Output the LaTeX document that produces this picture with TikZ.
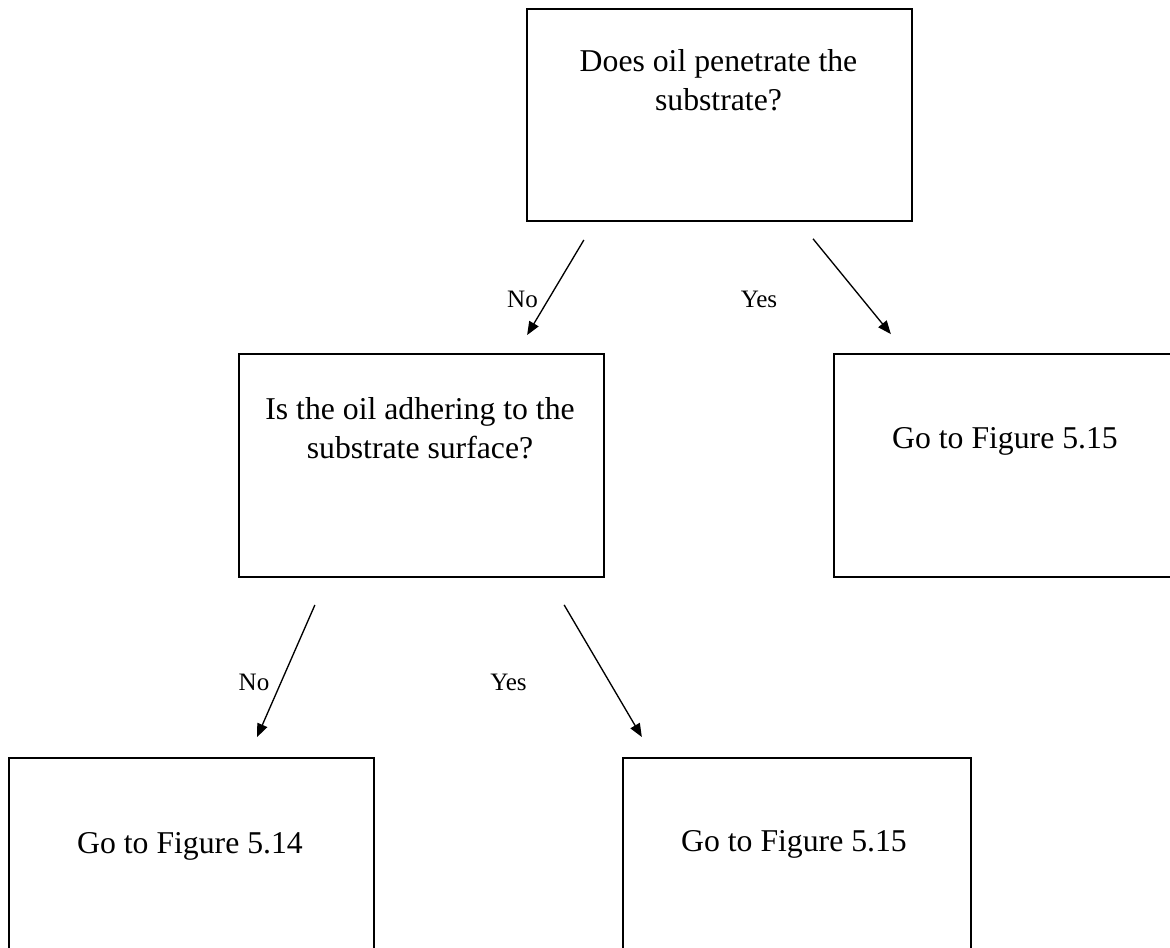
\documentclass[tikz,border=0pt]{standalone}
\usepackage{fontspec}
\setmainfont{Liberation Serif}
\usetikzlibrary{arrows.meta,calc}
\begin{document}
\begin{tikzpicture}[x=0.75pt,y=-0.75pt,
  box/.style={draw=black,line width=1.5pt,rectangle,inner sep=0pt,anchor=north west},
  boxtext/.style={anchor=base,align=center,inner sep=0pt,font=\fontsize{23.8pt}{29pt}\selectfont},
  arrowlabel/.style={anchor=base,inner sep=0pt,font=\fontsize{18.8pt}{22pt}\selectfont},
  flow/.style={line width=1pt,-{Triangle[length=10pt,width=8pt]}}]
\clip (0,0) rectangle (1170,947);
\fill[white] (0,0) rectangle (1170,947);

% decision boxes and outcome boxes
\node[box,minimum width=288.75pt,minimum height=159pt] (q1) at (526,8) {};
\node[box,minimum width=273.75pt,minimum height=167.25pt] (q2) at (238,353) {};
\node[box,minimum width=258pt,minimum height=167.25pt] (r1) at (833,353) {};
\node[box,minimum width=273.75pt,minimum height=167.25pt] (r2) at (8,757) {};
\node[box,minimum width=261pt,minimum height=167.25pt] (r3) at (622,757) {};

% box texts (base anchor sits on the last line)
\node[boxtext] (q1t) at (718.5,110) {Does oil penetrate the\\substrate?};
\node[boxtext] (q2t) at (420,458) {Is the oil adhering to the\\substrate surface?};
\node[boxtext] (r1t) at (1005,448) {Go to Figure 5.15};
\node[boxtext] (r2t) at (190,853) {Go to Figure 5.14};
\node[boxtext] (r3t) at (794,851) {Go to Figure 5.15};

% connectors
\draw[flow,shorten <=15.7pt,shorten >=15.7pt]
  ($(q1.south west)+(68.6,0)$) -- ($(q2.north west)+(278.4,0)$);
\draw[flow,shorten <=16.3pt,shorten >=18.3pt]
  ($(q1.south west)+(273.3,0)$) -- ($(r1.north west)+(73.3,0)$);
\draw[flow,shorten <=22.1pt,shorten >=16.3pt]
  ($(q2.south west)+(88.7,0)$) -- ($(r2.north west)+(240.3,0)$);
\draw[flow,shorten <=23.4pt,shorten >=17.4pt]
  ($(q2.south west)+(310.3,0)$) -- ($(r3.north west)+(31.6,0)$);

% branch labels
\node[arrowlabel] (l1) at (522.5,307) {No};
\node[arrowlabel] (l2) at (759,307) {Yes};
\node[arrowlabel] (l3) at (254,690) {No};
\node[arrowlabel] (l4) at (508.5,690) {Yes};
\end{tikzpicture}
\end{document}
